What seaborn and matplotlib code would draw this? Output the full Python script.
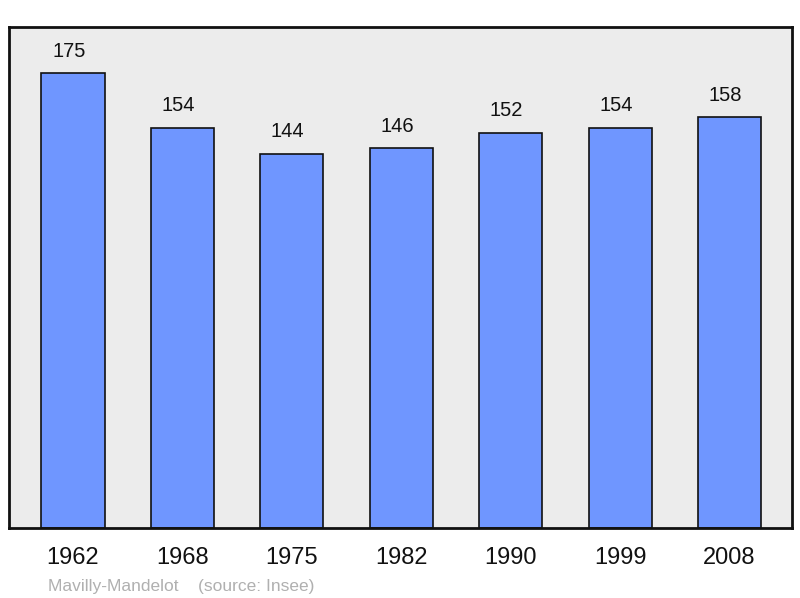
import matplotlib
matplotlib.use("Agg")
import matplotlib.pyplot as plt
import seaborn as sns
import pandas as pd

# population data
years = ["1962", "1968", "1975", "1982", "1990", "1999", "2008"]
population = [175, 154, 144, 146, 152, 154, 158]
town = "Mavilly-Mandelot"
source = "(source: Insee)"

df = pd.DataFrame({"year": years, "population": population})

sns.set_style("white")
plt.rcParams["font.family"] = ["Liberation Sans", "DejaVu Sans"]

fig = plt.figure(figsize=(8, 5.98), dpi=100)
ax = fig.add_axes([0.01125, 0.1171, 0.97875, 0.8377])
ax.set_facecolor("#ececec")

sns.barplot(data=df, x="year", y="population", color="#6f96ff", saturation=1,
            width=0.576, edgecolor="#111111", linewidth=1.2, ax=ax)

for i, v in enumerate(population):
    ax.annotate(str(v), (i, v), xytext=(-3, 9), textcoords="offset points",
                ha="center", va="bottom", fontsize=14.5, color="#111111")

ax.set_xlim(-0.585, 6.571)
ax.set_ylim(0, 192.7)
ax.set_yticks([])
ax.set_xlabel("")
ax.set_ylabel("")
ax.tick_params(axis="x", length=0, labelsize=17, pad=14, colors="#111111")
for s in ax.spines.values():
    s.set_linewidth(2)
    s.set_color("#111111")

fig.text(0.06, 0.012, town + "    " + source, fontsize=12.5, color="#b0b0b0")

fig.savefig("out.png", dpi=100)
